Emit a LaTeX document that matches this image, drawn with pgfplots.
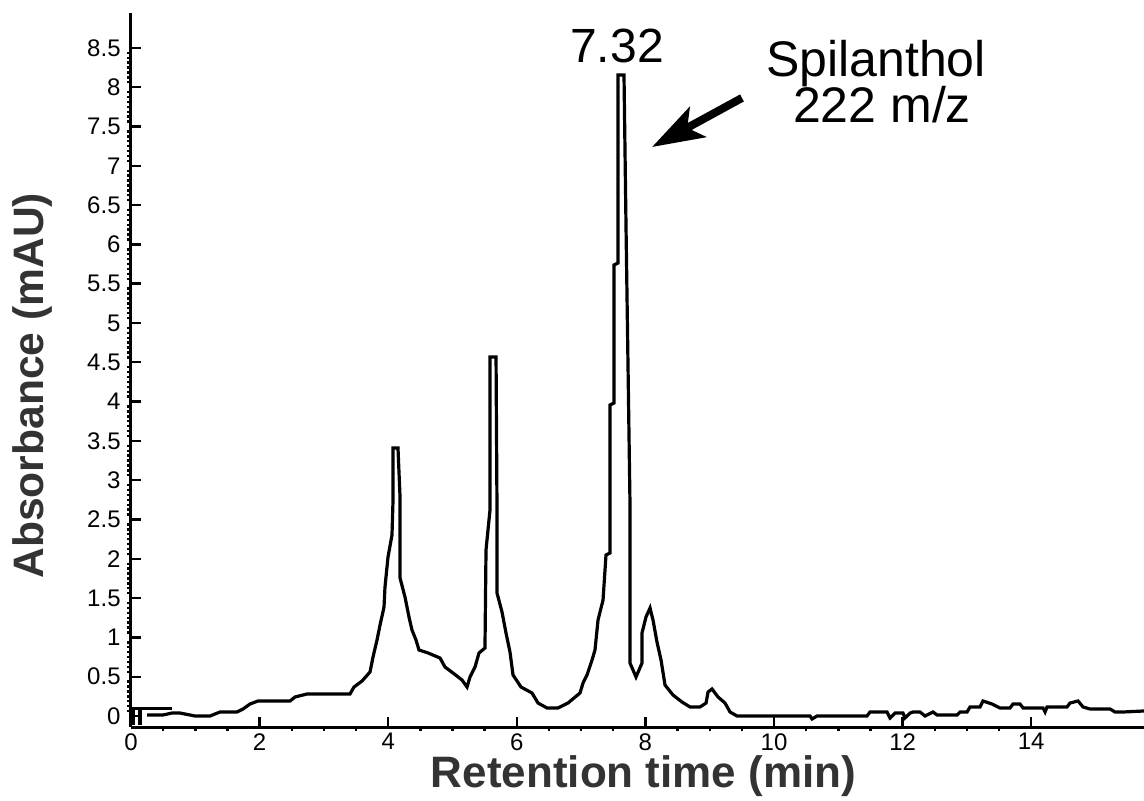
\documentclass[border=0pt]{standalone}
\usepackage{fontspec}
\setmainfont{Liberation Sans}
\usepackage{pgfplots}
\pgfplotsset{compat=1.18}
\usetikzlibrary{arrows.meta}
\begin{document}
\begin{tikzpicture}
\begin{axis}[
  scale only axis,
  width=506.5pt, height=357pt,
  xmin=0, xmax=15.754, ymin=-0.14, ymax=8.944,
  axis lines*=left,
  axis line style={line width=1.5pt, black},
  xtick={0,2,...,14},
  ytick={0,0.5,...,8.5},
  minor x tick num=3,
  minor y tick num=7,
  tick align=inside,
  major tick length=5pt,
  minor tick length=2pt,
  every tick/.style={black, line width=1.2pt},
  minor y tick style={xshift=-2pt},
  minor x tick style={yshift=-2pt},
  tick label style={font=\fontsize{12}{12}\selectfont, inner sep=1pt},
  /pgf/number format/assume math mode=true,
  xticklabel style={yshift=-2pt},
  yticklabel style={xshift=-4pt},
  xlabel={Retention time (min)},
  ylabel={Absorbance (mAU)},
  label style={text=black!80, inner sep=0pt},
  xlabel style={font=\fontsize{22}{22}\selectfont\bfseries, at={(axis description cs:0.506,-0.0686)}, anchor=center},
  ylabel style={font=\fontsize{21.3}{22}\selectfont\bfseries, at={(axis description cs:-0.097,0.478)}, anchor=center, rotate=0},
  clip=false,
]
% start marks near origin
\addplot[black, line width=1.6pt] coordinates {(0.04,-0.12) (0.04,0.1) (0.64,0.1)};
\addplot[black, line width=1.6pt] coordinates {(0.14,-0.12) (0.14,0.1)};
% chromatogram
\addplot[black, line width=1.6pt] coordinates {
(0.249,0.013) (0.498,0.013) (0.638,0.038) (0.762,0.038) (0.995,0.0) (1.229,0.0)
(1.384,0.051) (1.649,0.051) (1.742,0.089) (1.851,0.153) (1.975,0.191) (2.473,0.191)
(2.551,0.242) (2.737,0.280) (3.406,0.280) (3.468,0.369) (3.593,0.445) (3.717,0.560)
(3.764,0.751) (3.826,0.967) (3.873,1.158) (3.935,1.387) (3.950,1.641) (3.997,2.023)
(4.059,2.303) (4.075,2.748) (4.075,3.410) (4.152,3.410) (4.184,2.786) (4.184,1.756)
(4.261,1.514) (4.323,1.260) (4.370,1.094) (4.432,0.967) (4.479,0.840) (4.619,0.802)
(4.806,0.738) (4.883,0.623) (5.008,0.547) (5.148,0.458) (5.226,0.369) (5.272,0.496)
(5.350,0.623) (5.412,0.802) (5.505,0.865) (5.521,2.112) (5.583,2.621) (5.583,4.567)
(5.677,4.567) (5.692,2.621) (5.692,1.565) (5.770,1.323) (5.832,1.056) (5.894,0.814)
(5.941,0.522) (6.065,0.369) (6.236,0.293) (6.330,0.165) (6.470,0.102) (6.641,0.102)
(6.796,0.165) (6.983,0.293) (7.030,0.420) (7.092,0.522) (7.170,0.712) (7.216,0.840)
(7.263,1.221) (7.341,1.476) (7.387,2.048) (7.449,2.074) (7.449,3.957) (7.512,3.982)
(7.512,5.738) (7.574,5.763) (7.574,8.155) (7.667,8.155) (7.698,6.247) (7.760,2.710)
(7.760,0.674) (7.854,0.496) (7.947,0.674) (7.947,1.056) (8.009,1.260) (8.072,1.374)
(8.118,1.221) (8.180,0.941) (8.243,0.712) (8.305,0.394) (8.429,0.267) (8.569,0.178)
(8.694,0.115) (8.849,0.115) (8.943,0.165) (8.974,0.305) (9.036,0.344) (9.129,0.242)
(9.238,0.165) (9.316,0.051) (9.425,0.0) (10.560,0.0) (10.591,-0.038) (10.669,0.0)
(11.446,0.0) (11.493,0.051) (11.757,0.051) (11.804,-0.025) (11.882,0.038) (12.006,0.038)
(12.037,-0.025) (12.115,0.038) (12.162,0.051) (12.271,0.051) (12.348,0.0) (12.473,0.051)
(12.535,0.013) (12.846,0.013) (12.893,0.051) (13.002,0.051) (13.048,0.115) (13.204,0.115)
(13.250,0.191) (13.390,0.153) (13.515,0.102) (13.670,0.102) (13.717,0.153) (13.826,0.153)
(13.873,0.102) (14.184,0.102) (14.215,0.051) (14.246,0.115) (14.557,0.115) (14.603,0.165)
(14.728,0.191) (14.806,0.115) (14.914,0.089) (15.226,0.089) (15.303,0.051) (15.428,0.051)
(15.754,0.064)
};
\node[anchor=base, font=\fontsize{24}{24}\selectfont, inner sep=0pt] at (axis cs:7.558,8.32) {7.32};
\node[anchor=base, font=\fontsize{25}{25}\selectfont, inner sep=0pt] at (axis cs:11.586,8.13) {Spilanthol};
\node[anchor=base, font=\fontsize{25}{25}\selectfont, inner sep=0pt] at (axis cs:11.68,7.545) {222 m/z};
\draw[line width=4pt, -{Stealth[length=26pt, width=17pt, inset=6pt]}] (axis cs:9.502,7.863) -- (axis cs:8.103,7.239);
\end{axis}
\pgfresetboundingbox
\path (current axis.south west) ++(-65.5pt,-36.5pt) rectangle ++(572pt,400pt);
\end{tikzpicture}
\end{document}
